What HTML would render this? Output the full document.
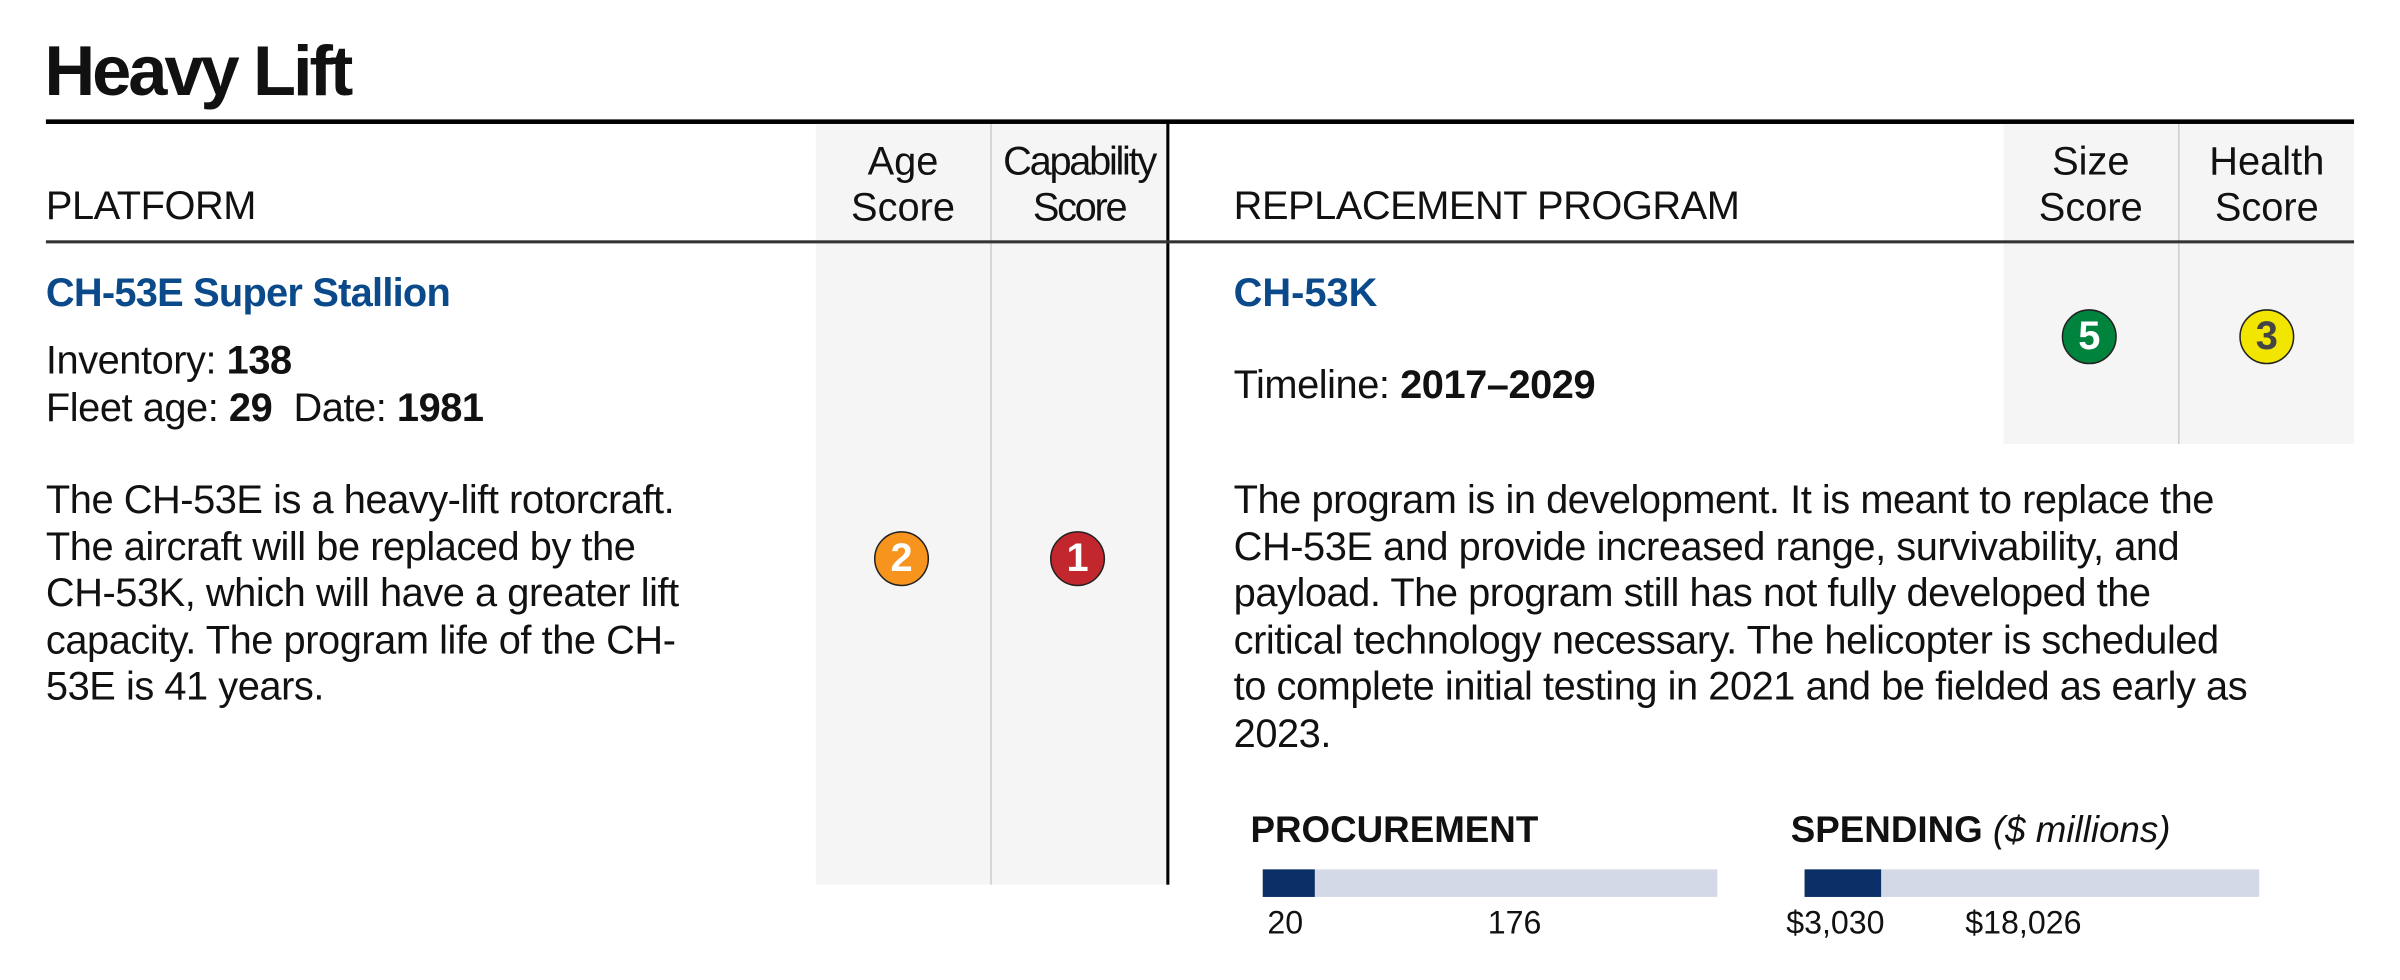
<!DOCTYPE html>
<html><head><meta charset="utf-8"><style>
html,body{margin:0;padding:0;background:#fff;width:2400px;height:980px;overflow:hidden}
#wrap{position:absolute;left:0;top:0;width:1568px;height:640px;transform:scale(1.5306);transform-origin:0 0;font-family:"Liberation Sans Narrow","Liberation Sans",sans-serif;color:#111}
.a{position:absolute;white-space:nowrap}
.bg{position:absolute;background:#f5f5f5}
.hd{font-size:26px;line-height:30px;text-align:center}
.p{font-size:26px;line-height:30.5px;letter-spacing:-0.3px}
.circ{position:absolute;width:36px;height:36px;border-radius:50%;border:1.5px solid #222;box-sizing:border-box;font:bold 26px/33px "Liberation Sans",sans-serif;color:#fff;text-align:center}
</style></head><body>
<div id="wrap">
<div class="a" style="left:29px;top:20px;font:bold 46px/52px 'Liberation Sans',sans-serif;letter-spacing:-2px">Heavy Lift</div>
<div class="a" style="left:30px;top:78px;width:1508px;height:3px;background:#000"></div>
<div class="bg" style="left:533px;top:81px;width:114px;height:497px"></div>
<div class="bg" style="left:648px;top:81px;width:114px;height:497px"></div>
<div class="a" style="left:647px;top:81px;width:1px;height:497px;background:#ccc"></div>
<div class="a" style="left:762px;top:81px;width:1.5px;height:497px;background:#000"></div>
<div class="bg" style="left:1309px;top:81px;width:114px;height:209px"></div>
<div class="bg" style="left:1424px;top:81px;width:114px;height:209px"></div>
<div class="a" style="left:1423px;top:81px;width:1px;height:209px;background:#ccc"></div>
<div class="a" style="left:30px;top:157px;width:1508px;height:1.5px;background:#333"></div>

<div class="a p" style="left:30px;top:119px">PLATFORM</div>
<div class="a hd" style="left:533px;top:90px;width:114px">Age<br>Score</div>
<div class="a hd" style="left:648px;top:90px;width:114px;letter-spacing:-1.5px">Capability<br>Score</div>
<div class="a p" style="left:806px;top:119px">REPLACEMENT PROGRAM</div>
<div class="a hd" style="left:1309px;top:90px;width:114px">Size<br>Score</div>
<div class="a hd" style="left:1424px;top:90px;width:114px">Health<br>Score</div>

<div class="a" style="left:30px;top:176px;font:bold 26px/30px 'Liberation Sans Narrow','Liberation Sans',sans-serif;color:#0b4a8a;letter-spacing:-0.5px">CH-53E Super Stallion</div>
<div class="a p" style="left:30px;top:220px">Inventory: <b>138</b><br>Fleet age: <b>29</b>&nbsp; Date: <b>1981</b></div>
<div class="a p" style="left:30px;top:311px">The CH-53E is a heavy-lift rotorcraft.<br>The aircraft will be replaced by the<br>CH-53K, which will have a greater lift<br>capacity. The program life of the CH-<br>53E is 41 years.</div>

<div class="circ" style="left:571px;top:347px;background:#f7941d">2</div>
<div class="circ" style="left:686px;top:347px;background:#c1272d">1</div>
<div class="circ" style="left:1347px;top:202px;background:#00843d">5</div>
<div class="circ" style="left:1463px;top:202px;background:#f2e600;color:#444">3</div>

<div class="a" style="left:806px;top:176px;font:bold 26px/30px 'Liberation Sans Narrow','Liberation Sans',sans-serif;color:#0b4a8a">CH-53K</div>
<div class="a p" style="left:806px;top:236px">Timeline: <b>2017–2029</b></div>
<div class="a p" style="left:806px;top:311px">The program is in development. It is meant to replace the<br>CH-53E and provide increased range, survivability, and<br>payload. The program still has not fully developed the<br>critical technology necessary. The helicopter is scheduled<br>to complete initial testing in 2021 and be fielded as early as<br>2023.</div>

<div class="a" style="left:817px;top:529px;font:bold 24px/28px 'Liberation Sans Narrow','Liberation Sans',sans-serif">PROCUREMENT</div>
<div class="a" style="left:1170px;top:529px;font:bold 24px/28px 'Liberation Sans Narrow','Liberation Sans',sans-serif">SPENDING <i style="font-weight:normal">($ millions)</i></div>
<div id="bars"></div>
</div>
<script>
var barNames=["procurement","spending"];
var barCurrent=[20,3030];
var barTotal=[176,18026];
var barLabelsCur=["20","$3,030"];
var barLabelsTot=["176","$18,026"];
var barLeft=[825,1179];
var bw=297;
var host=document.getElementById('bars');
function sx(v,t){return v/t*bw;}
for(var i=0;i<barNames.length;i++){
  var bg=document.createElement('div');
  bg.className='a';
  bg.style.cssText='left:'+barLeft[i]+'px;top:568px;width:'+bw+'px;height:18px;background:#d3d9e6';
  
  
  host.appendChild(bg);
  var fg=document.createElement('div');
  fg.className='a';
  fg.style.cssText='left:'+barLeft[i]+'px;top:568px;width:'+sx(barCurrent[i],barTotal[i])+'px;height:18px;background:#0a2f66';
  
  
  host.appendChild(fg);
  var l1=document.createElement('div');
  l1.className='a';
  l1.style.cssText='left:'+(barLeft[i]+(i?-12:3))+'px;top:591px;font-size:21px;line-height:26px';
  l1.textContent=barLabelsCur[i];
  
  
  host.appendChild(l1);
  var l2=document.createElement('div');
  l2.className='a';
  l2.style.cssText='left:'+(barLeft[i]+(i?105:147))+'px;top:591px;font-size:21px;line-height:26px';
  l2.textContent=barLabelsTot[i];
  
  
  host.appendChild(l2);
}
</script>
</body></html>
